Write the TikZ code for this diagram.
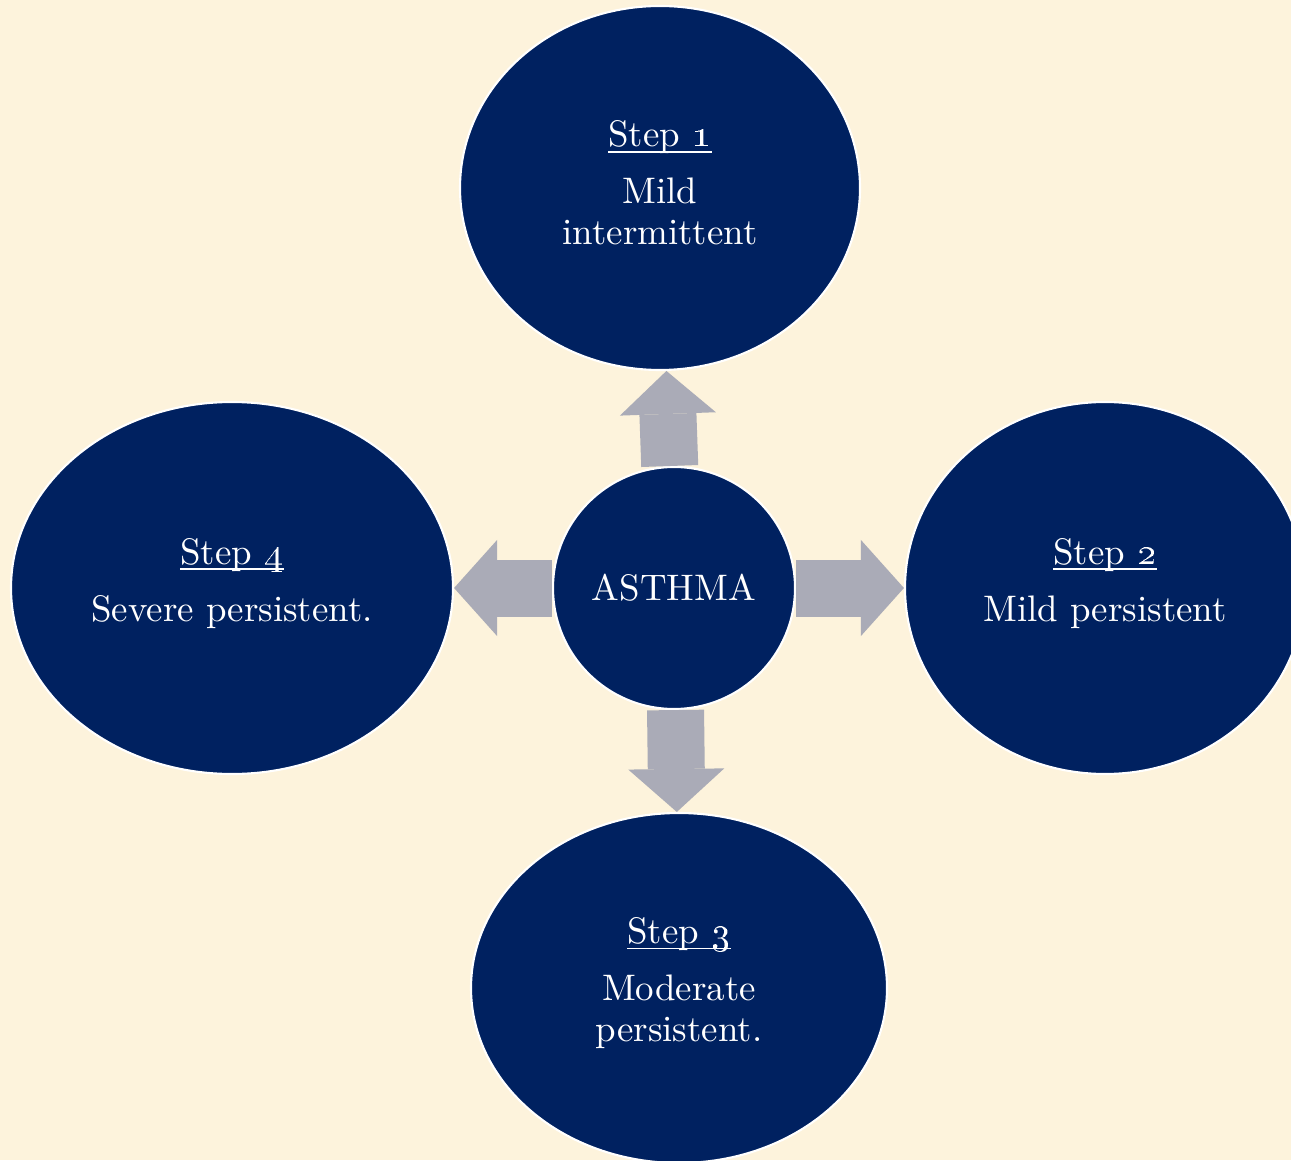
\documentclass[tikz,border=0pt]{standalone}
\usepackage{tikz}
\usepackage{xcolor}
\usetikzlibrary{shapes.geometric,arrows.meta}
\definecolor{asthmanavy}{RGB}{0,33,96}
\definecolor{arrowgray}{RGB}{170,171,183}
\definecolor{bgcream}{RGB}{253,243,220}
\newcommand{\steplabel}[1]{\underline{\smash{Step \oldstylenums{#1}}}\vphantom{p}}
\tikzset{
    stage/.style={
        ellipse,
        draw=white,
        fill=asthmanavy,
        line width=0.6pt,
        inner sep=0pt,
        text=white,
        align=center,
        font=\fontsize{10.5}{11.7}\selectfont
    },
    hub/.style={
        circle,
        draw=white,
        fill=asthmanavy,
        line width=0.6pt,
        inner sep=0pt,
        minimum size=2.42cm,
        text=white,
        font=\fontsize{10.5}{11.7}\selectfont
    },
    flow/.style={
        line width=0.57cm,
        arrowgray,
        -{Triangle[width=0.96cm,length=0.43cm,line width=0pt]}
    }
}
\begin{document}
\begin{tikzpicture}

% Page
\clip (0,0) rectangle (12.91,11.6);
\fill[bgcream] (0,0) rectangle (12.91,11.6);

% Centre and steps
\node[hub] (asthma) at (6.74,5.72) {ASTHMA};
\node[stage, minimum width=4.0cm, minimum height=3.64cm] (step1) at (6.60,9.72) {\steplabel{1}\\[4.5pt]Mild\\intermittent};
\node[stage, minimum width=4.0cm, minimum height=3.72cm] (step2) at (11.05,5.72) {\steplabel{2}\\[4.5pt]Mild persistent};
\node[stage, minimum width=4.16cm, minimum height=3.5cm] (step3) at (6.79,1.72) {\steplabel{3}\\[4.5pt]Moderate\\persistent.};
\node[stage, minimum width=4.42cm, minimum height=3.72cm] (step4) at (2.32,5.72) {\steplabel{4}\\[4.5pt]Severe persistent.};

% Block arrows
\draw[flow] (asthma) -- (step1);
\draw[flow] (asthma) -- (step2);
\draw[flow] (asthma) -- (step3);
\draw[flow] (asthma) -- (step4);

\end{tikzpicture}
\end{document}
